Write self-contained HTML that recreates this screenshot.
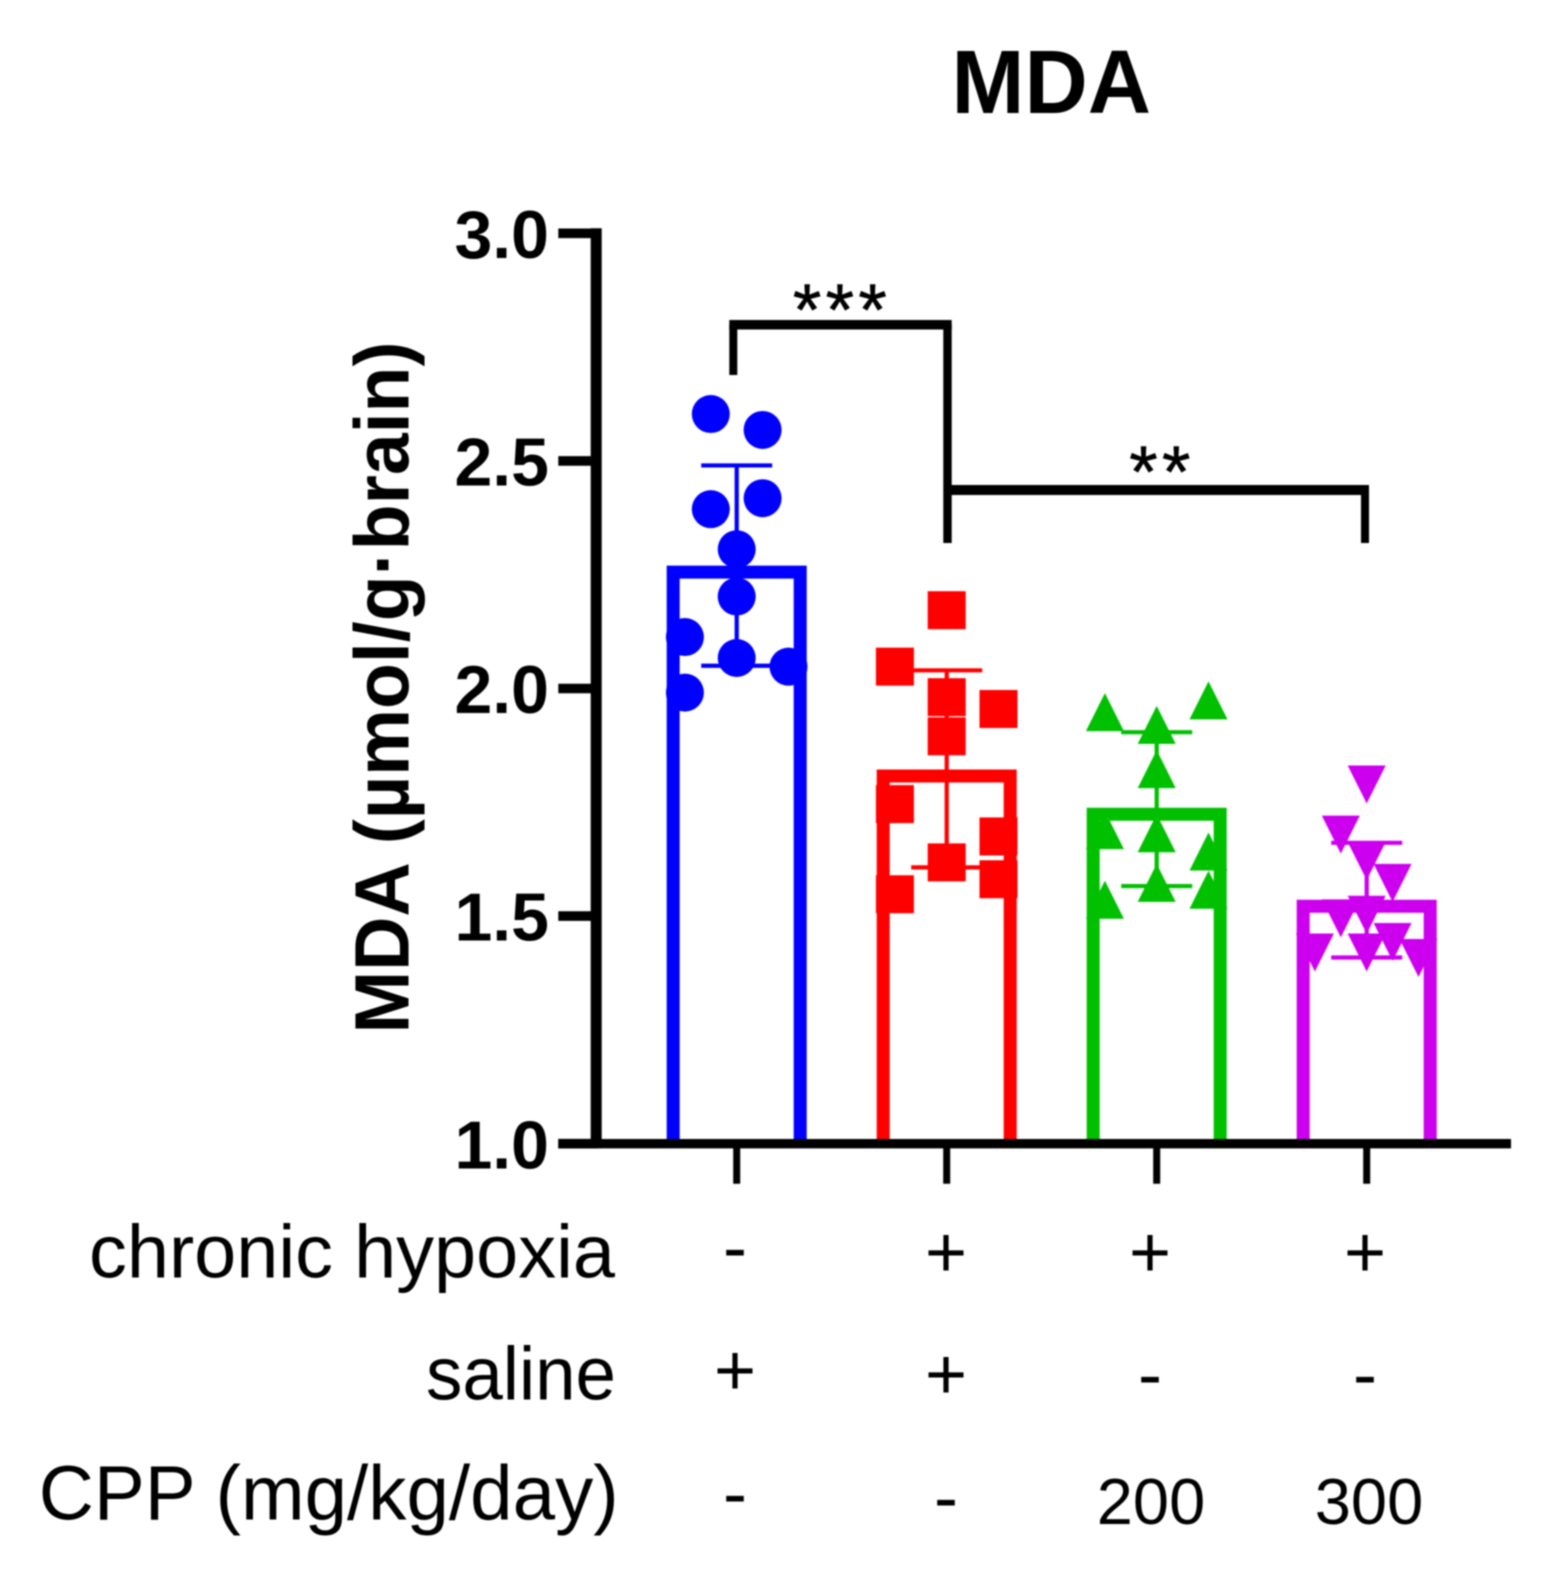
<!DOCTYPE html>
<html lang="en">
<head>
<meta charset="utf-8">
<title>MDA</title>
<style>
  html, body { margin: 0; padding: 0; background: #fff; }
  body { width: 1557px; height: 1587px; overflow: hidden; }
  #chart { display: block; filter: blur(0.7px); }
  text { font-family: "Liberation Sans", sans-serif; fill: #000; }
  .b { font-weight: bold; }
  .row { font-size: 75px; }
  .sym { font-size: 72px; text-anchor: middle; }
  .num { font-size: 65px; text-anchor: middle; }
  .star { font-size: 73px; text-anchor: middle; letter-spacing: 4.3px; stroke: #000; stroke-width: 0.6px; }
</style>
</head>
<body>
<svg id="chart" width="1557" height="1587" viewBox="0 0 1557 1587" xmlns="http://www.w3.org/2000/svg">
  <rect width="1557" height="1587" fill="#fff"></rect>
  <text class="b" x="951.5" y="113" font-size="90" textLength="199.5" lengthAdjust="spacingAndGlyphs">MDA</text>
  <text class="b" transform="translate(408.5,1033.5) rotate(-90)" font-size="77" textLength="692" lengthAdjust="spacingAndGlyphs">MDA (µmol/g·brain)</text>
  <g id="bars"></g>
  <g id="errors"></g>
  <g id="points"></g>
  <g id="axes"></g>

  <g>
    <g fill="none" stroke="#000">
      <line x1="733.3" y1="324.7" x2="733.3" y2="375" stroke-width="8"></line>
      <line x1="729.3" y1="324.7" x2="951.7" y2="324.7" stroke-width="9.5"></line>
      <line x1="947.5" y1="324.7" x2="947.5" y2="543" stroke-width="8.4"></line>
      <line x1="947" y1="490" x2="1369" y2="490" stroke-width="10"></line>
      <line x1="1365" y1="490" x2="1365" y2="543" stroke-width="8"></line>
    </g>
    <text class="star" x="842" y="335">***</text>
    <text class="star" x="1162" y="497">**</text>
  </g>

  <g>
    <text class="row" x="89" y="1277.3" textLength="526" lengthAdjust="spacingAndGlyphs">chronic hypoxia</text>
    <text class="row" x="426" y="1399.3" textLength="190" lengthAdjust="spacingAndGlyphs">saline</text>
    <text class="row" x="38.7" y="1519.3" font-size="77" style="font-size:77px" textLength="580" lengthAdjust="spacingAndGlyphs">CPP (mg/kg/day)</text>

    <text class="sym" x="735" y="1272">-</text>
    <text class="sym" x="946" y="1277">+</text>
    <text class="sym" x="1150" y="1277">+</text>
    <text class="sym" x="1365" y="1277">+</text>

    <text class="sym" x="735" y="1395">+</text>
    <text class="sym" x="946" y="1399">+</text>
    <text class="sym" x="1150" y="1399">-</text>
    <text class="sym" x="1365" y="1399">-</text>

    <text class="sym" x="735" y="1518">-</text>
    <text class="sym" x="946" y="1522">-</text>
    <text class="num" x="1151" y="1524">200</text>
    <text class="num" x="1369" y="1524">300</text>
  </g>
</svg>

<script>
const categories = ['saline', 'hypoxia', 'cpp-200', 'cpp-300'];
const colors = ['#0000ff', '#ff0000', '#00c000', '#cc00ee'];
const markers = ['circle', 'square', 'triangle-up', 'triangle-down'];
const yTicks = ['1.0', '1.5', '2.0', '2.5', '3.0'];

const means = [2.27, 1.822, 1.738, 1.536];
const errorUpper = [2.49, 2.04, 1.904, 1.661];
const errorLower = [2.05, 1.607, 1.566, 1.409];

const salineValues = [2.603, 2.568, 2.394, 2.418, 2.306, 2.202, 2.113, 2.067, 2.048, 1.991];
const salineSlots = [-1, 1, -1, 1, 0, 0, -2, 0, 2, -2];
const hypoxiaValues = [2.172, 2.048, 1.981, 1.955, 1.895, 1.746, 1.675, 1.618, 1.581, 1.548];
const hypoxiaSlots = [0, -2, 0, 2, 0, -2, 2, 0, 2, -2];
const cpp200Values = [1.948, 1.974, 1.920, 1.823, 1.689, 1.682, 1.642, 1.573, 1.558, 1.536];
const cpp200Slots = [-2, 2, 0, 0, -2, 0, 2, 0, 2, -2];
const cpp300Values = [1.789, 1.679, 1.621, 1.573, 1.503, 1.495, 1.443, 1.420, 1.420, 1.408];
const cpp300Slots = [0, -1, 0, 1, 0, -1, 1, -2, 0, 2];

const groupValues = [salineValues, hypoxiaValues, cpp200Values, cpp300Values];
const groupSlots = [salineSlots, hypoxiaSlots, cpp200Slots, cpp300Slots];

const NS = 'http://www.w3.org/2000/svg';
function y(v) { return 1143.7 - (v - 1) * 455.2; }
function x(i) { return 736.7 + i * 210; }
function slotX(i, s) { return x(i) + s * 25.9; }
const BAR_HALF = 70, BAR_STROKE = 13, CAP_HALF = 35.5, MARK = 19;

function node(tag, parent, attrs) {
  const el = document.createElementNS(NS, tag);
  for (const k in attrs) el.setAttribute(k, attrs[k]);
  parent.appendChild(el);
  return el;
}

const barsG = document.getElementById('bars');
const errorsG = document.getElementById('errors');
const pointsG = document.getElementById('points');
const axesG = document.getElementById('axes');

categories.forEach(function (cat, i) {
  const inset = BAR_HALF - BAR_STROKE / 2;
  const top = y(means[i]) + BAR_STROKE / 2;
  const bar = node('path', barsG, {
    d: 'M' + (x(i) - inset) + ' ' + y(1) + 'V' + top + 'H' + (x(i) + inset) + 'V' + y(1),
    fill: 'none', stroke: colors[i], 'stroke-width': BAR_STROKE
  });
  
  

  const err = node('path', errorsG, {
    d: 'M' + x(i) + ' ' + y(errorUpper[i]) + 'V' + y(errorLower[i]) +
       'M' + (x(i) - CAP_HALF) + ' ' + y(errorUpper[i]) + 'H' + (x(i) + CAP_HALF) +
       'M' + (x(i) - CAP_HALF) + ' ' + y(errorLower[i]) + 'H' + (x(i) + CAP_HALF),
    fill: 'none', stroke: colors[i], 'stroke-width': 4.2
  });
  
  

  groupValues[i].forEach(function (v, j) {
    const cx = slotX(i, groupSlots[i][j]);
    const cy = y(v);
    let mark;
    if (markers[i] === 'circle') {
      mark = node('circle', pointsG, { cx: cx, cy: cy, r: MARK, fill: colors[i] });
    } else if (markers[i] === 'square') {
      mark = node('rect', pointsG, { x: cx - MARK, y: cy - MARK, width: 2 * MARK, height: 2 * MARK, fill: colors[i] });
    } else {
      const d = markers[i] === 'triangle-up' ? 1 : -1;
      mark = node('polygon', pointsG, {
        points: cx + ',' + (cy - d * MARK) + ' ' + (cx + MARK) + ',' + (cy + d * MARK) + ' ' + (cx - MARK) + ',' + (cy + d * MARK),
        fill: colors[i]
      });
    }
    
    
  });

  const tick = node('line', axesG, { x1: x(i), x2: x(i), y1: y(1), y2: y(1) + 40, stroke: '#000', 'stroke-width': 7 });
  
  
});

const yAxis = node('line', axesG, { x1: 596.2, x2: 596.2, y1: y(3) - 5, y2: y(1) + 4.6, stroke: '#000', 'stroke-width': 11 });



const xAxis = node('line', axesG, { x1: 558.3, x2: 1511, y1: y(1), y2: y(1), stroke: '#000', 'stroke-width': 9.3 });



yTicks.forEach(function (label) {
  const v = parseFloat(label);
  const tick = node('line', axesG, { x1: 558.3, x2: 597, y1: y(v), y2: y(v), stroke: '#000', 'stroke-width': 9.6 });
  
  
  const t = node('text', axesG, { x: 549, y: y(v) + 24.6, 'font-size': 68, 'font-weight': 'bold', 'text-anchor': 'end' });
  t.textContent = label;
  
  
});
</script>
</body>
</html>
